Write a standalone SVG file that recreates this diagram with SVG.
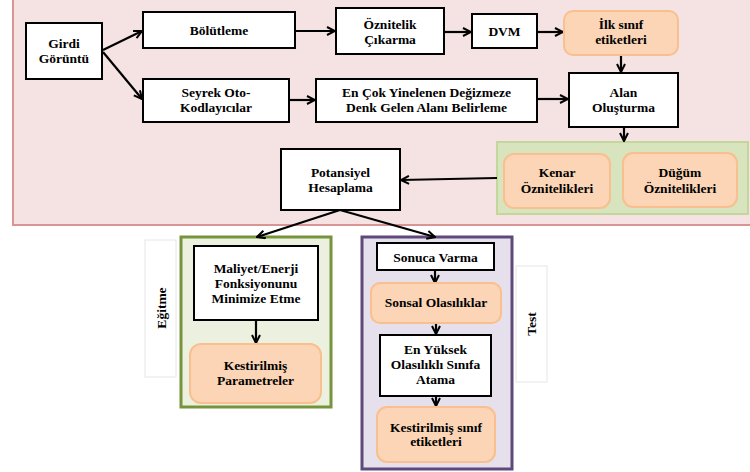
<svg xmlns="http://www.w3.org/2000/svg" width="750" height="472" viewBox="0 0 750 472">
<defs>
<marker id="ah" viewBox="0 0 10 10" refX="9" refY="5" markerWidth="10" markerHeight="10" markerUnits="userSpaceOnUse" orient="auto">
<path d="M1,1 L9,5 L1,9" fill="none" stroke="#000" stroke-width="2"/>
</marker>
</defs>
<style>
text{font-weight:bold;font-size:13.5px;fill:#000;text-anchor:middle}
.box{fill:#fff;stroke:#000;stroke-width:2}
.org{fill:#FBD5B5;stroke:#F9BF8F;stroke-width:2}
.con{fill:none;stroke:#000;stroke-width:2.2;marker-end:url(#ah)}
.lbl{fill:#fff;stroke:#E6E6E6;stroke-width:1}
</style>
<rect x="0" y="0" width="750" height="472" fill="#fff"/>
<g id="bg">
<rect x="13" y="-5" width="745" height="230" fill="#F5E3E3" stroke="#D99594" stroke-width="2"/>
</g>
<g id="group-features">
<rect x="497" y="142" width="251" height="72" fill="#D7E4BD" stroke="#C3D69B" stroke-width="2"/>
</g>
<g font-family="Liberation Serif, Times New Roman, serif">
<g id="group-egitme">
<rect x="145" y="240" width="31" height="137" class="lbl"/>
<text transform="translate(166,308) rotate(-90)">Eğitme</text>
<rect x="181" y="237" width="150" height="170" fill="#EBF1DE" stroke="#77933C" stroke-width="3"/>
</g>
<g id="group-test">
<rect x="516" y="266" width="31" height="116" class="lbl"/>
<text transform="translate(536,324) rotate(-90)">Test</text>
<rect x="362" y="237" width="150" height="232" fill="#E6E0EC" stroke="#5F497A" stroke-width="3"/>
</g>
<g id="connectors">
<line x1="103" y1="50" x2="142" y2="31" class="con"/>
<line x1="103" y1="52" x2="142" y2="99" class="con"/>
<line x1="295" y1="31" x2="335" y2="31" class="con"/>
<line x1="444" y1="32" x2="471" y2="32" class="con"/>
<line x1="537" y1="32" x2="563" y2="32" class="con"/>
<line x1="621" y1="55" x2="621" y2="72" class="con"/>
<line x1="289" y1="100" x2="315" y2="100" class="con"/>
<line x1="537" y1="99" x2="568" y2="99" class="con"/>
<line x1="624" y1="127" x2="624" y2="141" class="con"/>
<line x1="497" y1="178" x2="401" y2="180" class="con"/>
<line x1="340" y1="210" x2="257" y2="237" class="con"/>
<line x1="340" y1="210" x2="435" y2="237" class="con"/>
<line x1="256" y1="321" x2="256" y2="343" class="con"/>
<line x1="435" y1="271" x2="435" y2="283" class="con"/>
<line x1="436" y1="323" x2="436" y2="334" class="con"/>
<line x1="436" y1="396" x2="436" y2="406" class="con"/>
</g>
<g id="girdi"><rect x="26" y="23" width="76" height="56" class="box"/><text x="64" y="48">Girdi</text><text x="64" y="63">Görüntü</text></g>
<g id="bolutleme"><rect x="143" y="12" width="152" height="36" class="box"/><text x="219" y="35">Bölütleme</text></g>
<g id="oznitelik"><rect x="336" y="8" width="108" height="46" class="box"/><text x="390" y="29">Öznitelik</text><text x="390" y="44">Çıkarma</text></g>
<g id="dvm"><rect x="472" y="14" width="65" height="34" class="box"/><text x="504.5" y="36">DVM</text></g>
<g id="ilk"><rect x="564" y="11" width="114" height="44" rx="9" class="org"/><text x="621" y="29">İlk sınıf</text><text x="621" y="44">etiketleri</text></g>
<g id="seyrek"><rect x="143" y="79" width="146" height="43" class="box"/><text x="216" y="97">Seyrek Oto-</text><text x="216" y="112">Kodlayıcılar</text></g>
<g id="encok"><rect x="316" y="79" width="221" height="43" class="box"/><text x="426.5" y="97">En Çok Yinelenen Değizmeze</text><text x="426.5" y="112">Denk Gelen Alanı Belirleme</text></g>
<g id="alan"><rect x="569" y="73" width="109" height="54" class="box"/><text x="623.5" y="97">Alan</text><text x="623.5" y="112">Oluşturma</text></g>
<g id="kenar"><rect x="504" y="154" width="106" height="54" rx="10" class="org"/><text x="557" y="177">Kenar</text><text x="557" y="193">Öznitelikleri</text></g>
<g id="dugum"><rect x="623" y="153" width="114" height="54" rx="10" class="org"/><text x="680" y="177">Düğüm</text><text x="680" y="193">Öznitelikleri</text></g>
<g id="potansiyel"><rect x="281" y="149" width="119" height="61" class="box"/><text x="340.5" y="177">Potansiyel</text><text x="340.5" y="192">Hesaplama</text></g>
<g id="maliyet"><rect x="194" y="246" width="124" height="74" class="box" stroke-width="2.5"/><text x="256" y="273">Maliyet/Enerji</text><text x="256" y="288">Fonksiyonunu</text><text x="256" y="303">Minimize Etme</text></g>
<g id="kestparam"><rect x="190" y="344" width="131" height="59" rx="11" class="org"/><text x="255.5" y="370">Kestirilmiş</text><text x="255.5" y="385">Parametreler</text></g>
<g id="sonuca"><rect x="377" y="243" width="117" height="27" class="box" stroke-width="2.5"/><text x="435.5" y="262">Sonuca Varma</text></g>
<g id="sonsal"><rect x="371" y="283" width="130" height="40" rx="9" class="org"/><text x="436" y="307">Sonsal Olasılıklar</text></g>
<g id="enyuksek"><rect x="380" y="335" width="111" height="61" class="box" stroke-width="2.5"/><text x="435.5" y="354">En Yüksek</text><text x="435.5" y="369">Olasılıklı Sınıfa</text><text x="435.5" y="384">Atama</text></g>
<g id="kestsinif"><rect x="377" y="407" width="118" height="55" rx="10" class="org"/><text x="436" y="432">Kestirilmiş sınıf</text><text x="436" y="446">etiketleri</text></g>
</g>
</svg>
